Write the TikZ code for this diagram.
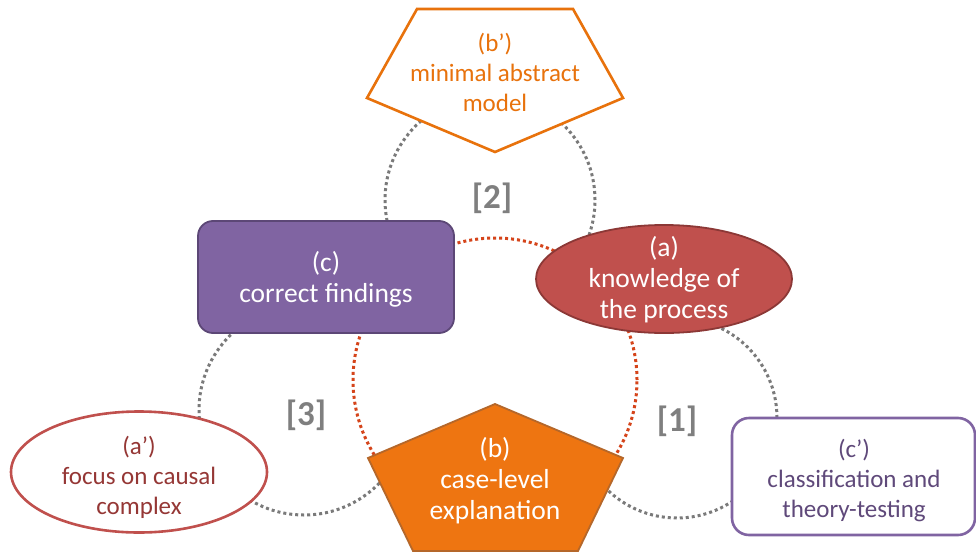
\documentclass[tikz,border=0pt]{standalone}
\usepackage{fontspec}
\setmainfont{Carlito}
\usetikzlibrary{shapes.geometric}
\definecolor{purplefill}{HTML}{8064A2}
\definecolor{purpleborder}{HTML}{5C4776}
\definecolor{purpletext}{HTML}{5F497A}
\definecolor{redfill}{HTML}{C0504D}
\definecolor{redborder}{HTML}{8C3836}
\definecolor{redtext}{HTML}{953735}
\definecolor{orangefill}{HTML}{EE7511}
\definecolor{orangeborder}{HTML}{B5672A}
\definecolor{orangeline}{HTML}{E8720C}
\definecolor{dotgray}{HTML}{7A7A7A}
\definecolor{dotred}{HTML}{D5441A}
\definecolor{labelgray}{HTML}{7F7F7F}
\begin{document}
\begin{tikzpicture}[x=1pt,y=-1pt,
  graydot/.style={draw=dotgray, line width=3pt, dash pattern=on 3pt off 3pt},
  reddot/.style={draw=dotred, line width=3pt, dash pattern=on 3pt off 3pt, fill=white},
  txt/.style={align=center, font=\fontsize{25}{30}\selectfont, inner sep=0pt},
  bigtxt/.style={align=center, font=\fontsize{27.5}{31}\selectfont, inner sep=0pt},
  lbl/.style={font=\fontsize{35}{38}\selectfont\bfseries, text=labelgray, inner sep=0pt},
  filledshape/.style={line width=1.8pt},
  outlineshape/.style={line width=2.6pt, fill=white}
]
\useasboundingbox (0,0) rectangle (976,551);
\fill[white] (0,0) rectangle (976,551);

% gray dotted circles
\coordinate (g1) at (677,418);
\coordinate (g2) at (490,200);
\coordinate (g3) at (304,410);
\draw[graydot] (g1) circle[radius=100pt];
\draw[graydot] (g2) circle[radius=105pt];
\draw[graydot] (g3) circle[radius=105pt];

% red dotted central circle
\coordinate (rc) at (495,380);
\draw[reddot] (rc) circle[radius=142pt];

% (b') pentagon (outline)
\coordinate (bp1) at (417,9);
\coordinate (bp2) at (573,9);
\coordinate (bp3) at (623,98);
\coordinate (bp4) at (495,152);
\coordinate (bp5) at (367,98);
\draw[outlineshape, draw=orangeline, line join=miter] (bp1) -- (bp2) -- (bp3) -- (bp4) -- (bp5) -- cycle;
\node[txt, text=orangeline] (bprime) at (495,72) {(b’)\\minimal abstract\\model};

% (c) box
\node[filledshape, draw=purpleborder, fill=purplefill, rounded corners=15pt,
      minimum width=256pt, minimum height=112pt, inner sep=0pt] (c) at (326,277) {};
\node[bigtxt, text=white] (ctext) at (326,279) {(c)\\correct findings};

% (a) ellipse
\node[filledshape, ellipse, draw=redborder, fill=redfill,
      minimum width=256pt, minimum height=108pt, inner sep=0pt] (a) at (664,279) {};
\node[bigtxt, text=white] (atext) at (664,280) {(a)\\knowledge of\\the process};

% (a') ellipse
\node[outlineshape, ellipse, draw=redfill,
      minimum width=256pt, minimum height=121pt, inner sep=0pt] (aprime) at (139,472) {};
\node[txt, text=redtext] (aprimetext) at (139,477) {(a’)\\focus on causal\\complex};

% (b) pentagon (filled)
\coordinate (b1) at (495,404);
\coordinate (b2) at (623,458);
\coordinate (b3) at (578,551);
\coordinate (b4) at (413,551);
\coordinate (b5) at (368,458);
\draw[filledshape, draw=orangeborder, fill=orangefill, line join=miter] (b1) -- (b2) -- (b3) -- (b4) -- (b5) -- cycle;
\node[bigtxt, text=white] (btext) at (495,481) {(b)\\case-level\\explanation};

% (c') box
\node[outlineshape, draw=purplefill, rounded corners=17pt,
      minimum width=243pt, minimum height=117pt, inner sep=0pt] (cprime) at (853.5,476.5) {};
\node[txt, text=purpletext] (cprimetext) at (854,480) {(c’)\\classification and\\theory-testing};

% labels
\node[lbl] (l1) at (677,421) {[1]};
\node[lbl] (l2) at (492,198) {[2]};
\node[lbl] (l3) at (306,415) {[3]};
\end{tikzpicture}
\end{document}
